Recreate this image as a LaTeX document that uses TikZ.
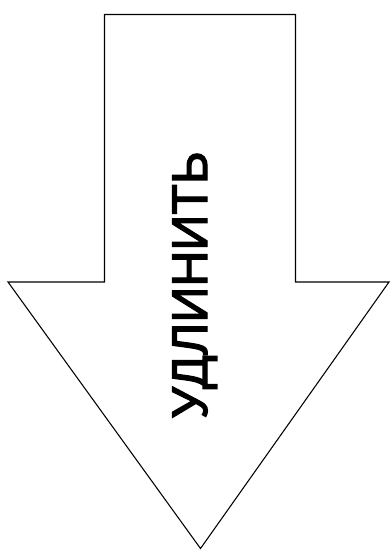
\documentclass[tikz,border=0pt]{standalone}
\usepackage{fontspec}
\setmainfont{Liberation Sans}
\usetikzlibrary{positioning}

\begin{document}
\begin{tikzpicture}[
    x=0.75pt, y=-0.75pt,
    outline/.style={draw=black, line width=0.8pt, line join=miter, fill=white},
    label/.style={font=\fontsize{37.5}{37.5}\selectfont, rotate=90, anchor=base, inner sep=0pt}
]

% Cornice
\useasboundingbox (0,0) rectangle (390,550);

% Freccia
\coordinate (tl) at (104.5,14.5);
\coordinate (tr) at (295.5,14.5);
\coordinate (sr) at (295.5,282);
\coordinate (hr) at (389,282);
\coordinate (tip) at (200.5,548.5);
\coordinate (hl) at (8,282);
\coordinate (sl) at (104.5,282);
\draw[outline] (tl) -- (tr) -- (sr) -- (hr) -- (tip) -- (hl) -- (sl) -- cycle;

% Testo
\node[label] (word) at (207,285) {\special{pdf:literal direct 2 Tr 0.9 w}УДЛИНИТЬ\special{pdf:literal direct 0 Tr}};

\end{tikzpicture}
\end{document}
